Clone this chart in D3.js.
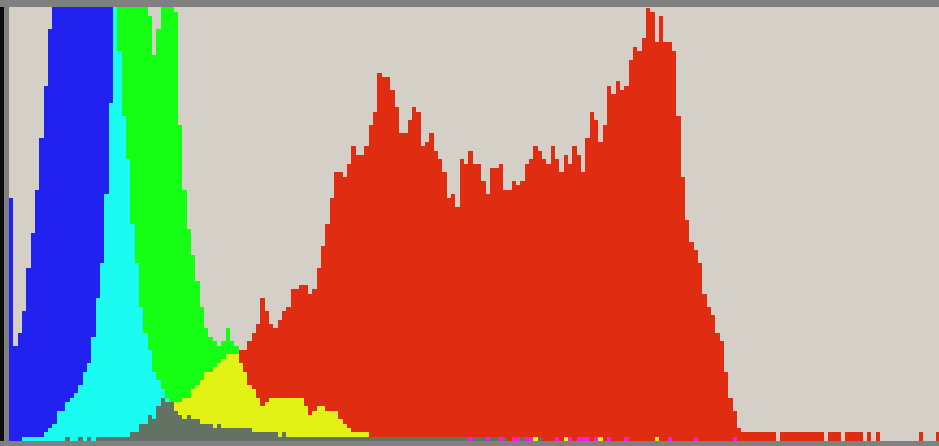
<!DOCTYPE html>
<html>
<head>
<meta charset="utf-8">
<script src="https://cdn.jsdelivr.net/npm/d3@7"></script>
<style>
  html, body { margin: 0; padding: 0; background: #d4d0c8; overflow: hidden; }
  svg { display: block; }
</style>
</head>
<body>
<svg id="chart" width="939" height="446"></svg>
<script>
// Per-bin pixel counts for each channel (215 visible bins, counts 0..100 fill the frame).
const redCounts = [
  0,0,0,0,0,0,0,0,0,0,
  0,0,0,1,0,0,1,0,1,0,
  1,1,1,1,1,1,1,1,2,2,
  4,4,6,5,8,10,9,9,9,9,
  10,10,12,13,14,16,16,17,18,19,
  20,20,20,21,21,23,25,27,33,30,
  27,26,28,30,31,35,35,36,36,34,
  35,40,45,50,56,62,62,61,64,68,
  66,66,68,73,76,85,84,84,81,77,
  71,71,74,77,76,68,69,71,67,65,
  62,56,57,54,65,64,67,64,64,60,
  57,63,63,64,58,58,60,59,60,64,
  65,68,67,65,64,68,65,62,66,64,
  68,66,62,70,76,74,69,73,82,80,
  83,81,82,88,91,90,93,100,99,92,
  98,92,92,90,75,61,51,46,44,41,
  34,31,29,25,23,16,10,7,3,2,
  2,2,2,2,2,2,2,0,2,2,
  2,2,2,2,2,2,2,2,0,2,
  2,2,0,2,2,2,2,0,2,0,
  2,0,0,0,0,0,0,0,0,0,
  2,0,0,0,2
];

const greenCounts = [
  0,0,0,1,1,1,1,1,2,3,
  4,7,7,9,10,11,13,16,18,24,
  33,41,57,78,104,109,115,119,121,117,
  110,103,98,89,95,104,107,103,99,73,
  58,49,43,37,31,26,24,23,22,23,
  26,23,22,18,16,13,12,10,8,9,
  10,10,10,10,10,10,10,10,8,6,
  7,8,8,7,7,7,5,4,3,2,
  2,2,2,1,1,1,1,1,1,1,
  1,1,1,1,1,1,1,1,1,1,
  1,1,1,1,1,1,0,1,1,1,
  0,1,1,0,1,0,0,0,1,0,
  0,1,1,0,0,0,0,0,1,0,
  0,0,0,0,0,0,1,0,0,0,
  0,0,0,0,0,0,0,0,0,1,
  0,0,0,0,0,0,0,0,0,0,
  0,0,0,0,0,0,0,0,0,0,
  0,0,0,0,0,0,0,0,0,0,
  0,0,0,0,0,0,0,0,0,0,
  0,0,0,0,0,0,0,0,0,0,
  0,0,0,0,0,0,0,0,0,0,
  0,0,0,0,0
];

const blueCounts = [
  56,22,25,30,40,48,58,70,82,95,
  108,116,123,129,134,137,139,138,135,131,
  126,120,114,108,102,90,75,65,50,41,
  31,25,21,16,14,12,10,9,7,6,
  5,6,5,5,4,4,4,3,4,3,
  3,3,3,3,3,3,2,2,2,2,
  2,2,1,2,1,1,1,1,1,1,
  1,1,1,1,1,1,1,1,1,1,
  1,1,1,1,1,1,1,1,1,1,
  1,1,1,1,1,1,1,1,1,1,
  1,1,1,1,1,1,1,1,1,1,
  1,1,1,1,1,0,1,1,1,1,
  1,0,1,0,0,0,1,0,0,1,
  0,1,1,1,0,1,0,0,1,0,
  0,0,1,0,0,0,0,0,0,0,
  0,0,1,0,0,0,0,0,1,0,
  0,0,0,0,0,0,0,1,0,0,
  0,0,0,0,0,0,0,0,0,0,
  0,0,0,0,0,0,0,0,0,0,
  0,0,0,0,0,0,0,0,0,0,
  0,0,0,0,0,0,0,0,0,0,
  0,0,0,0,0
];

const countMax = 100;

// Fill colour for each set of overlapping channels.
const overlapColors = {
  r: "#e02d12",
  g: "#14ff14",
  b: "#2121f0",
  gr: "#e2f214",
  br: "#f020e0",
  bg: "#1afcf2",
  bgr: "#637363"
};

const W = 939, H = 446;
const plot = { left: 9, top: 7, bottom: 441, right: 939 };
const binWidth = 13 / 3;

const svg = d3.select("#chart");

const bins = d3.range(redCounts.length);
const x = d3.scaleLinear()
  .domain([0, bins.length])
  .range([plot.left, plot.left + bins.length * binWidth]);
const y = d3.scaleLinear()
  .domain([0, countMax])
  .range([plot.bottom, plot.bottom - countMax * binWidth]);

// Plot background and frame.
svg.append("rect").attr("x", 0).attr("y", 0).attr("width", W).attr("height", H).attr("fill", "#d4d0c8");

svg.append("defs").append("clipPath").attr("id", "plot-clip")
  .append("rect")
  .attr("x", plot.left).attr("y", plot.top)
  .attr("width", plot.right - plot.left).attr("height", plot.bottom - plot.top);

// Split every bin into stacked pieces: all three channels, the two largest, the largest alone.
const segments = [];
bins.forEach(i => {
  const ch = [
    { k: "r", v: redCounts[i] },
    { k: "g", v: greenCounts[i] },
    { k: "b", v: blueCounts[i] }
  ].sort((a, b) => a.v - b.v);
  const keyOf = list => list.map(d => d.k).sort().join("");
  const pieces = [
    { y0: 0, y1: ch[0].v, key: keyOf(ch) },
    { y0: ch[0].v, y1: ch[1].v, key: keyOf([ch[1], ch[2]]) },
    { y0: ch[1].v, y1: ch[2].v, key: keyOf([ch[2]]) }
  ];
  pieces.forEach(p => {
    if (p.y1 > p.y0) segments.push({ bin: i, y0: p.y0, y1: p.y1, key: p.key });
  });
});

svg.append("g")
  .attr("clip-path", "url(#plot-clip)")
  .attr("shape-rendering", "crispEdges")
  .selectAll("rect")
  .data(segments)
  .join("rect")
  .attr("x", d => Math.round(x(d.bin)))
  .attr("width", d => Math.round(x(d.bin + 1)) - Math.round(x(d.bin)))
  .attr("y", d => Math.round(y(d.y1)))
  .attr("height", d => Math.round(y(d.y0)) - Math.round(y(d.y1)))
  .attr("fill", d => overlapColors[d.key]);

// Window frame around the histogram.
const frame = svg.append("g").attr("shape-rendering", "crispEdges");
frame.append("rect").attr("x", 0).attr("y", 0).attr("width", W).attr("height", plot.top).attr("fill", "#808080");
frame.append("rect").attr("x", 0).attr("y", plot.bottom).attr("width", W).attr("height", H - plot.bottom).attr("fill", "#808080");
frame.append("rect").attr("x", 0).attr("y", plot.top).attr("width", 4).attr("height", plot.bottom - plot.top).attr("fill", "#0c0c0c");
frame.append("rect").attr("x", 4).attr("y", plot.top).attr("width", plot.left - 4).attr("height", plot.bottom - plot.top).attr("fill", "#808080");
</script>
</body>
</html>
